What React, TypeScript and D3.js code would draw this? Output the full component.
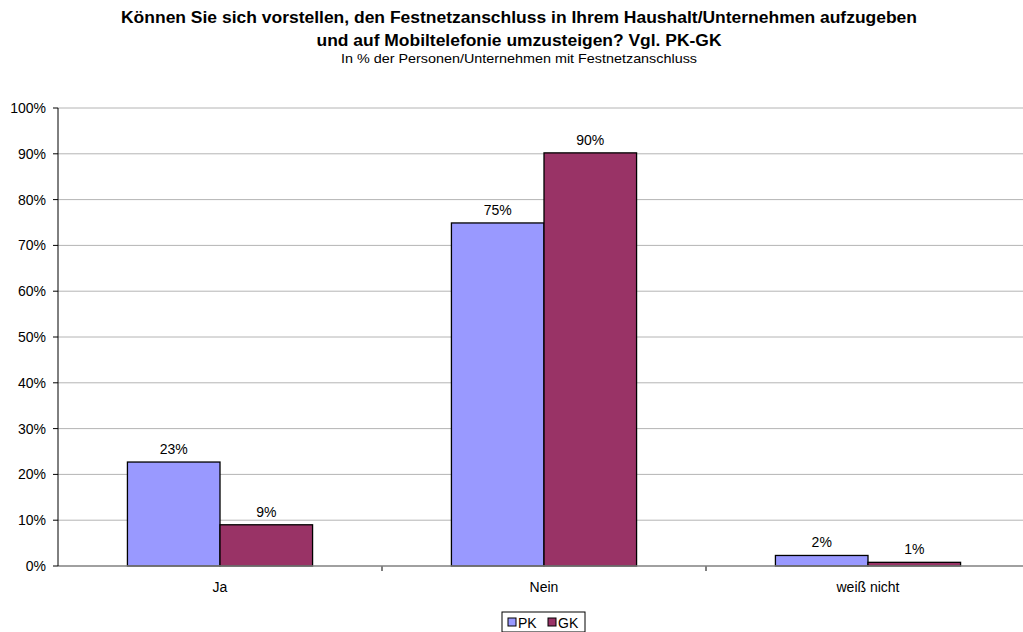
import React from "react";
import * as d3 from "d3";

const categories = ["Ja", "Nein", "weiß nicht"];
const seriesNames = ["PK", "GK"];
const pkValues = [22.7, 74.9, 2.3];
const gkValues = [9.0, 90.2, 0.8];
const yTicks = [0, 10, 20, 30, 40, 50, 60, 70, 80, 90, 100];
const seriesColors = ["#9999ff", "#993366"];

const W = 1023;
const H = 632;
const margin = { left: 58, right: -7, top: 108, bottom: 66 };

export default function App() {
  const x0 = d3
    .scaleBand<string>()
    .domain(categories)
    .range([margin.left, W - margin.right])
    .paddingInner(0)
    .paddingOuter(0);
  const inner = d3
    .scaleBand<string>()
    .domain(seriesNames)
    .range([0, x0.bandwidth()])
    .paddingInner(0)
    .paddingOuter(0.75);
  const y = d3.scaleLinear().domain([0, 100]).range([H - margin.bottom, margin.top]);
  const fmt = (v: number) => `${Math.round(v)}%`;
  const font = "'Liberation Sans', Arial, sans-serif";
  const series = [pkValues, gkValues];
  const titleX = 519;

  return (
    <svg width={W} height={H} style={{ position: "absolute", left: 0, top: 0 }} fontFamily={font}>
      <rect width={W} height={H} fill="#ffffff" />
      <text
        x={titleX}
        y={23}
        textAnchor="middle"
        fontSize={16}
        fontWeight="bold"
        textLength={796}
        lengthAdjust="spacingAndGlyphs"
      >
        Können Sie sich vorstellen, den Festnetzanschluss in Ihrem Haushalt/Unternehmen aufzugeben
      </text>
      <text
        x={titleX}
        y={45.5}
        textAnchor="middle"
        fontSize={16}
        fontWeight="bold"
        textLength={405}
        lengthAdjust="spacingAndGlyphs"
      >
        und auf Mobiltelefonie umzusteigen? Vgl. PK-GK
      </text>
      <text
        x={titleX}
        y={63}
        textAnchor="middle"
        fontSize={13}
        textLength={356}
        lengthAdjust="spacingAndGlyphs"
      >
        In % der Personen/Unternehmen mit Festnetzanschluss
      </text>

      {yTicks.map((t) => (
        <g key={t}>
          {t > 0 && (
            <line x1={margin.left} x2={W} y1={y(t)} y2={y(t)} stroke="#b4b4b4" strokeWidth={1} />
          )}
          <line x1={margin.left - 5} x2={margin.left} y1={y(t)} y2={y(t)} stroke="#000" />
          <text x={margin.left - 12} y={y(t) + 5} textAnchor="end" fontSize={14}>
            {t}%
          </text>
        </g>
      ))}

      {categories.map((c, ci) => (
        <g key={c}>
          {series.map((vals, si) => {
            const bx = (x0(c) as number) + (inner(seriesNames[si]) as number);
            return (
              <g key={si}>
                <rect
                  x={bx}
                  y={y(vals[ci])}
                  width={inner.bandwidth()}
                  height={y(0) - y(vals[ci])}
                  fill={seriesColors[si]}
                  stroke="#000"
                  strokeWidth={1.3}
                />
                <text
                  x={bx + inner.bandwidth() / 2}
                  y={y(vals[ci]) - 8}
                  textAnchor="middle"
                  fontSize={14}
                >
                  {fmt(vals[ci])}
                </text>
              </g>
            );
          })}
          <text x={(x0(c) as number) + x0.bandwidth() / 2} y={592} textAnchor="middle" fontSize={14}>
            {c}
          </text>
        </g>
      ))}

      {/* category separators */}
      {categories.map((c) => (
        <line
          key={`t-${c}`}
          x1={(x0(c) as number) + x0.bandwidth()}
          x2={(x0(c) as number) + x0.bandwidth()}
          y1={y(0)}
          y2={y(0) + 5}
          stroke="#000"
        />
      ))}
      <line x1={margin.left} x2={W} y1={y(0)} y2={y(0)} stroke="#808080" strokeWidth={1.5} />
      <line x1={margin.left} x2={margin.left} y1={y(100)} y2={y(0)} stroke="#000" strokeWidth={1} />

      {/* legend */}
      <g transform="translate(502,612)">
        <rect x={0} y={0} width={83} height={20} fill="#fff" stroke="#000" />
        {seriesNames.map((s, i) => (
          <g key={s} transform={`translate(${6 + i * 40},0)`}>
            <rect x={0} y={6} width={8} height={8} fill={seriesColors[i]} stroke="#000" />
            <text x={10} y={15.5} fontSize={14}>
              {s}
            </text>
          </g>
        ))}
      </g>
    </svg>
  );
}
